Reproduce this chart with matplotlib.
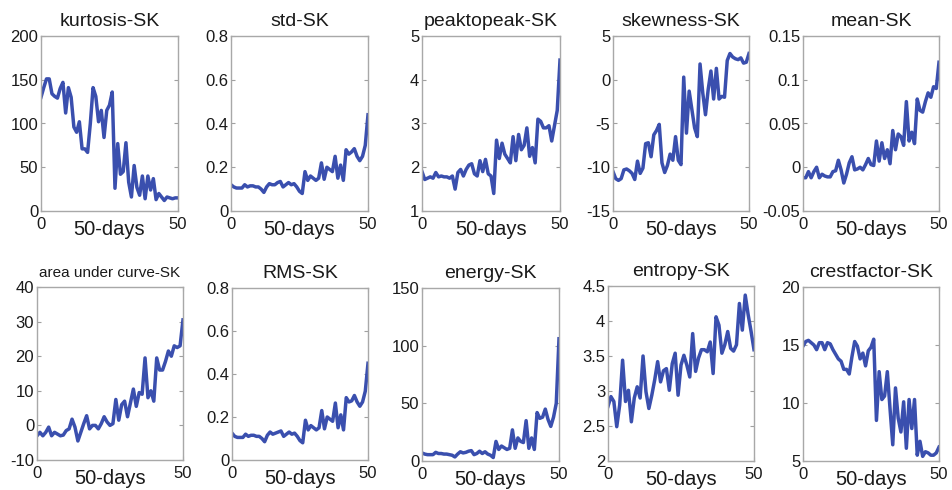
import matplotlib
matplotlib.use('Agg')
import matplotlib.pyplot as plt
import numpy as np

plt.rcParams['font.family'] = ['Liberation Sans', 'DejaVu Sans']

days = np.arange(51)

kurtosis = [130, 141, 151, 151, 134, 131, 129, 140, 147, 112, 141, 130, 96, 90, 102,
            71, 71, 67, 100, 141, 131, 102, 115, 84, 115, 121, 136, 26, 77, 42,
            45, 78, 33, 16, 52, 27, 18, 40, 14, 40, 24, 37, 13, 20, 16,
            12, 16, 15, 14, 15, 15]
std = [0.12, 0.11, 0.105, 0.105, 0.105, 0.12, 0.11, 0.115, 0.115, 0.11, 0.11, 0.10, 0.085,
       0.11, 0.125, 0.12, 0.12, 0.13, 0.135, 0.11, 0.12, 0.13, 0.12, 0.125, 0.11, 0.09,
       0.08, 0.18, 0.14, 0.16, 0.15, 0.14, 0.15, 0.22, 0.145, 0.20, 0.19, 0.18, 0.25,
       0.15, 0.21, 0.14, 0.28, 0.26, 0.27, 0.285, 0.25, 0.23, 0.25, 0.30, 0.44]
peaktopeak = [1.9, 1.72, 1.75, 1.78, 1.75, 1.88, 1.78, 1.8, 1.78, 1.78, 1.75, 1.8, 1.5,
              1.88, 1.95, 1.8, 1.95, 2.05, 2.08, 1.85, 1.8, 2.15, 1.9, 2.18, 1.85, 1.8,
              1.4, 2.62, 2.2, 2.55, 2.3, 2.2, 2.1, 2.7, 2.15, 2.75, 2.4, 2.5, 2.9, 2.25,
              2.45, 2.1, 3.1, 3.05, 2.9, 2.9, 2.95, 2.6, 2.95, 3.3, 4.45]
skewness = [-10.5, -11.3, -11.5, -11.3, -10.3, -10.2, -10.4, -10.7, -11.4, -9.3, -10.7,
            -10.1, -7.3, -7.2, -8.8, -6.3, -5.8, -5.1, -9.5, -10.6, -9.8, -8.5, -9.2,
            -6.5, -9.2, -9.7, 0.3, -6.1, -1.3, -3.4, -5.5, -6.5, 1.8, -1.5, -4, -1.1,
            1, -2.2, 1.3, -2.2, -1.9, -2, 2.2, 3, 2.6, 2.4, 2.3, 2.5, 1.9, 2, 3]
mean = [-0.012, -0.012, -0.005, -0.012, -0.005, 0.0, -0.012, -0.008, -0.01, -0.011,
        -0.011, -0.005, -0.004, 0.008, -0.003, -0.018, -0.008, 0.005, 0.012, -0.003,
        -0.002, 0.0, -0.003, 0.003, 0.01, 0.003, 0.002, 0.03, 0.007, 0.028, 0.01, 0.02,
        0.004, 0.042, 0.02, 0.038, 0.035, 0.025, 0.075, 0.03, 0.04, 0.027, 0.078, 0.065,
        0.063, 0.075, 0.085, 0.08, 0.092, 0.09, 0.12]
area = [-3, -2, -3, -2, -0.5, -3, -2, -2.5, -3, -2.8, -1.5, -1, 1.8, -0.5, -4.5, -2,
        0.5, 2.8, -1, 0, 0, -1, 0.5, 2.5, 1, 0, 0.5, 7.5, 1.5, 6, 7, 2.5, 6.5, 10.5,
        5.5, 9.5, 9, 19.5, 8, 10, 7, 19.5, 16, 16, 18.5, 21.5, 20, 23, 22.5, 23, 30.5]
rms = [0.125, 0.11, 0.105, 0.105, 0.105, 0.12, 0.11, 0.115, 0.115, 0.11, 0.11, 0.10,
       0.085, 0.115, 0.13, 0.12, 0.125, 0.13, 0.135, 0.11, 0.12, 0.13, 0.12, 0.125, 0.11,
       0.09, 0.08, 0.185, 0.14, 0.16, 0.15, 0.14, 0.15, 0.23, 0.145, 0.20, 0.19, 0.18,
       0.265, 0.15, 0.21, 0.14, 0.29, 0.27, 0.275, 0.30, 0.27, 0.25, 0.27, 0.32, 0.45]
energy = [7, 6, 5.5, 5.5, 5.5, 7.5, 6.5, 6.5, 6, 6, 5.5, 5, 3.5, 6, 8, 7, 7.5, 8.5, 9,
          5.5, 6.5, 8.5, 6.5, 8, 6, 5, 3, 17, 10, 13, 11.5, 10, 11, 27, 11, 20, 17, 16,
          35, 11, 20, 10, 42, 37, 38, 45, 36, 30, 38, 50, 106]
entropy = [2.78, 2.92, 2.85, 2.49, 2.8, 3.44, 2.85, 3.01, 2.56, 2.9, 3.06, 2.9, 3.5,
           2.99, 2.75, 2.94, 3.16, 3.42, 3.13, 3.29, 3.32, 3.01, 3.39, 3.54, 2.94, 3.37,
           3.51, 3.37, 3.2, 3.82, 3.28, 3.47, 3.59, 3.59, 3.56, 3.7, 3.25, 4.06, 3.94,
           3.54, 3.66, 3.85, 3.61, 3.57, 3.66, 4.25, 3.87, 4.37, 4.09, 3.85, 3.59]
crestfactor = [14.9, 15.3, 15.4, 15.2, 15.0, 14.6, 15.2, 15.2, 14.6, 15.2, 15.1, 14.6,
               14.2, 13.8, 13.6, 12.9, 12.9, 12.5, 14, 15.3, 14.9, 13.8, 14.3, 13.2,
               14.5, 14.8, 15.5, 8.5, 12.7, 10.3, 10.6, 12.7, 9.5, 6.4, 11.3, 8.7, 7.5,
               10.1, 6.1, 10.3, 7.8, 10.3, 5.5, 6.7, 5.4, 5.8, 5.7, 5.5, 5.5, 5.7, 6.2]

titles = ['kurtosis-SK', 'std-SK', 'peaktopeak-SK', 'skewness-SK', 'mean-SK',
          'area under curve-SK', 'RMS-SK', 'energy-SK', 'entropy-SK', 'crestfactor-SK']
series = [kurtosis, std, peaktopeak, skewness, mean, area, rms, energy, entropy, crestfactor]
yticks = [[0, 50, 100, 150, 200],
          [0, 0.2, 0.4, 0.6, 0.8],
          [1, 2, 3, 4, 5],
          [-15, -10, -5, 0, 5],
          [-0.05, 0, 0.05, 0.1, 0.15],
          [-10, 0, 10, 20, 30, 40],
          [0, 0.2, 0.4, 0.6, 0.8],
          [0, 50, 100, 150],
          [2, 2.5, 3, 3.5, 4, 4.5],
          [5, 10, 15, 20]]

# axes boxes in pixels: left, right, top, bottom
boxes = [(41, 178, 36, 211), (231, 368, 36, 211), (422, 560, 36, 211),
         (613, 749, 36, 211), (803, 939, 36, 211),
         (37, 183, 287, 460), (232, 368, 288, 460), (422, 559, 288, 461),
         (608, 754, 286, 461), (803, 939, 287, 461)]

W, H = 952, 490
fig = plt.figure(figsize=(W / 100, H / 100), dpi=100)

for i, (title, values, ticks, box) in enumerate(zip(titles, series, yticks, boxes)):
    l, r, t, b = box
    ax = fig.add_axes([l / W, 1 - b / H, (r - l) / W, (b - t) / H])
    ax.plot(days, values, color='#3a4fae', linewidth=2.5, solid_joinstyle='round')
    ax.set_xlim(0, 50)
    ax.set_ylim(ticks[0], ticks[-1])
    ax.set_xticks([0, 50])
    ax.set_yticks(ticks)
    ax.set_yticklabels(['%g' % v for v in ticks])
    ax.tick_params(direction='in', length=3, width=0.8, color='#a0a0a0',
                   labelsize=12, labelcolor='#1a1a1a', top=True, right=True)
    ax.tick_params(axis='x', pad=4)
    ax.tick_params(axis='y', pad=2)
    for s in ax.spines.values():
        s.set_color('#a8a8a8')
        s.set_linewidth(1.0)
    tsize = 11 if i == 5 else 14
    ax.set_title(title, fontsize=tsize, color='#1a1a1a', pad=7)
    ax.set_xlabel('50-days', fontsize=14.5, color='#1a1a1a', labelpad=-8)

fig.savefig('out.png', dpi=100)
